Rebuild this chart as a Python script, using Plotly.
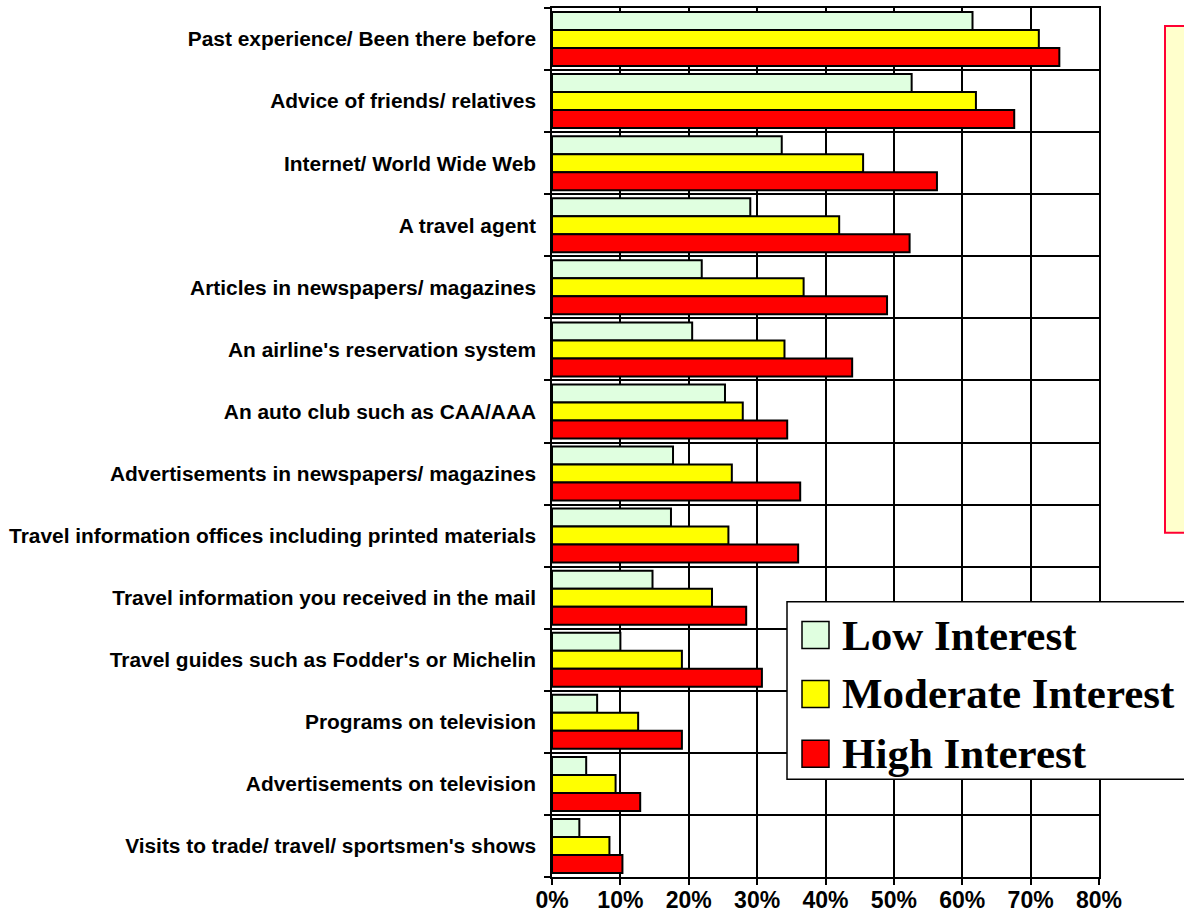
import plotly.graph_objects as go

# Information sources, listed top to bottom
categories = [
    "Past experience/ Been there before",
    "Advice of friends/ relatives",
    "Internet/ World Wide Web",
    "A travel agent",
    "Articles in newspapers/ magazines",
    "An airline's reservation system",
    "An auto club such as CAA/AAA",
    "Advertisements in newspapers/ magazines",
    "Travel information offices including printed materials",
    "Travel information you received in the mail",
    "Travel guides such as Fodder's or Michelin",
    "Programs on television",
    "Advertisements on television",
    "Visits to trade/ travel/ sportsmen's shows",
]

# Share of respondents (%) by interest level
low_interest = [61.5, 52.6, 33.6, 29.0, 21.9, 20.5, 25.3, 17.7, 17.4, 14.7, 10.0, 6.6, 5.0, 4.0]
moderate_interest = [71.2, 62.0, 45.5, 42.0, 36.8, 34.0, 27.9, 26.3, 25.8, 23.4, 19.0, 12.6, 9.3, 8.4]
high_interest = [74.2, 67.6, 56.3, 52.3, 49.0, 43.9, 34.4, 36.3, 36.0, 28.4, 30.7, 19.0, 12.9, 10.3]

series_names = ["Low Interest", "Moderate Interest", "High Interest"]
series_values = [low_interest, moderate_interest, high_interest]
series_colors = ["#E0FFE0", "#FFFF00", "#FF0000"]

x_ticks = [0, 10, 20, 30, 40, 50, 60, 70, 80]
x_tick_labels = [f"{v}%" for v in x_ticks]

# Page geometry (pixels)
FIG_W, FIG_H = 1184, 922
M_L, M_R, M_T, M_B = 552, 85, 6, 45
PLOT_W = FIG_W - M_L - M_R
PLOT_H = FIG_H - M_T - M_B


def px_x(px):
    return (px - M_L) / PLOT_W


def px_y(py):
    return 1 - (py - M_T) / PLOT_H


positions = list(range(len(categories)))

fig = go.Figure()
for name, vals, color in zip(series_names, series_values, series_colors):
    fig.add_trace(go.Bar(
        name=name,
        x=vals,
        y=positions,
        orientation="h",
        marker=dict(color=color, line=dict(color="#000000", width=2)),
        showlegend=False,
        hovertemplate="%{x:.1f}%<extra>" + name + "</extra>",
    ))

shapes = []
annotations = []

# Note box at the right edge
shapes.append(dict(
    type="rect", xref="paper", yref="paper",
    x0=px_x(1165), x1=px_x(1200), y0=px_y(532), y1=px_y(24),
    line=dict(color="#FF0033", width=2), fillcolor="#FFFFCC", layer="above",
))

# Legend panel
shapes.append(dict(
    type="rect", xref="paper", yref="paper",
    x0=px_x(787), x1=px_x(1200), y0=px_y(779), y1=px_y(601),
    line=dict(color="#000000", width=1.5), fillcolor="#FFFFFF", layer="above",
))
sw_top = [621, 680, 740]
for top, name, color in zip(sw_top, series_names, series_colors):
    shapes.append(dict(
        type="rect", xref="paper", yref="paper",
        x0=px_x(802), x1=px_x(829), y0=px_y(top + 27), y1=px_y(top),
        line=dict(color="#000000", width=1.5), fillcolor=color, layer="above",
    ))
    annotations.append(dict(
        xref="paper", yref="paper", x=px_x(840), y=px_y(top + 13.5),
        xanchor="left", yanchor="middle", showarrow=False, text=name,
        font=dict(family="Liberation Serif", size=43, color="#000000", weight="bold"),
    ))

fig.update_layout(
    width=FIG_W, height=FIG_H,
    margin=dict(l=M_L, r=M_R, t=M_T, b=M_B, pad=0),
    paper_bgcolor="#FFFFFF", plot_bgcolor="#FFFFFF",
    barmode="group", bargap=0.13, bargroupgap=0.0,
    font=dict(family="Liberation Sans", color="#000000"),
    shapes=shapes, annotations=annotations,
    showlegend=False,
)

fig.update_xaxes(
    range=[0, 80], tickmode="array", tickvals=x_ticks, ticktext=x_tick_labels,
    showgrid=True, gridcolor="#000000", gridwidth=1.5,
    showline=True, linecolor="#000000", linewidth=1.5, mirror=True,
    ticks="outside", ticklen=6, tickcolor="#000000", tickwidth=1.5,
    ticklabelstandoff=-4,
    tickfont=dict(family="Liberation Sans", size=23, weight="bold", color="#000000"),
    zeroline=False, fixedrange=True,
)

fig.update_yaxes(
    range=[len(categories) - 0.5, -0.5],
    tickmode="array", tickvals=positions, ticktext=categories,
    showgrid=False,
    showline=True, linecolor="#000000", linewidth=1.5, mirror=True,
    ticks="outside", ticklen=10, tickcolor="rgba(0,0,0,0)",
    tickfont=dict(family="Liberation Sans", size=20.9, weight="bold", color="#000000"),
    minor=dict(
        tickmode="array",
        tickvals=[i - 0.5 for i in range(len(categories) + 1)],
        showgrid=True, gridcolor="#000000", gridwidth=1.5,
        ticks="outside", ticklen=6, tickcolor="#000000", tickwidth=1.5,
    ),
    zeroline=False, fixedrange=True,
)

fig.write_html("out.html")
